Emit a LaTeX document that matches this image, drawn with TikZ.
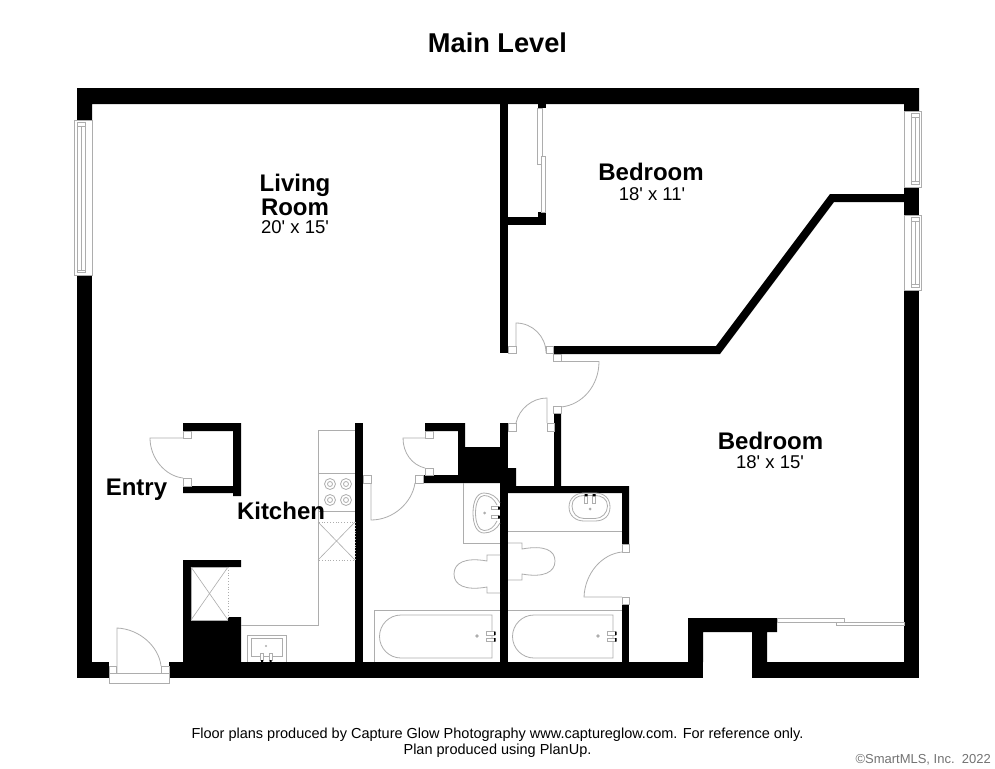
\documentclass[tikz,border=0pt]{standalone}
\usepackage{fontspec}
\setmainfont{Liberation Sans}
\definecolor{ln}{gray}{0.68}
\newcommand{\ft}{\textquotesingle}
\tikzset{
  wall/.style={fill=black,draw=none},
  fix/.style={draw=ln,line width=0.8pt,fill=none},
  jamb/.style={draw=ln,line width=0.8pt,fill=white},
  dot/.style={draw=ln,line width=0.8pt,dotted},
  room/.style={font=\bfseries\fontsize{24}{24}\selectfont,align=center,inner sep=0pt},
  dim/.style={font=\fontsize{18.5}{18.5}\selectfont,inner sep=0pt},
  foot/.style={font=\fontsize{14.5}{16}\selectfont,inner sep=0pt,align=center}
}
\begin{document}
\begin{tikzpicture}[x=1pt,y=-1pt]
\useasboundingbox (0,0) rectangle (995,768);
\fill[white] (0,0) rectangle (995,768);
% outer walls
\fill[wall] (77,275) -- (77,88) -- (919,88) -- (919,111) -- (904,111) -- (904,104) -- (92,104) -- (92,120) -- (77,120) -- cycle;
\fill[white] (77,120) rectangle (92,275);
\fill[wall] (77,275) rectangle (92,678);
\fill[wall] (77,662) rectangle (109,678);
\fill[wall] (169,662) rectangle (703,678);
\fill[wall] (752,662) rectangle (919,678);
\fill[wall] (904,290) rectangle (919,678);
\fill[wall] (904,187) rectangle (919,215);
\fill[wall] (688,662) -- (688,618) -- (777,618) -- (777,632) -- (767,632) -- (767,662) -- (752,662) -- (752,632) -- (703,632) -- (703,662) -- cycle;
% bedroom partition
\fill[wall] (553,346) -- (716,346) -- (830,194) -- (904,194) -- (904,202) -- (834,202) -- (720,354) -- (553,354) -- cycle;
\fill[wall] (500,104) rectangle (508,353);
\fill[wall] (508,217) rectangle (546,225);
\fill[wall] (538,212) rectangle (546,217);
\fill[wall] (538,104) rectangle (546,108);
% entry closet
\fill[wall] (183,423) -- (241,423) -- (241,496) -- (233,496) -- (233,493) -- (183,493) -- (183,486) -- (233,486) -- (233,431) -- (183,431) -- cycle;
% pantry
\fill[wall] (241,560) -- (183,560) -- (183,662) -- (241,662) -- (241,617) -- (228,617) -- (228,620) -- (191,620) -- (191,567) -- (241,567) -- cycle;
% kitchen / bath walls
\fill[wall] (355,423) rectangle (363,662);
\fill[wall] (500,423) rectangle (508,662);
\fill[wall] (425,423) -- (465,423) -- (465,447) -- (500,447) -- (500,483) -- (423,483) -- (423,475) -- (458,475) -- (458,431) -- (425,431) -- cycle;
\fill[wall] (508,468) -- (516,468) -- (516,486) -- (554,486) -- (554,413) -- (561,413) -- (561,486) -- (629,486) -- (629,544) -- (622,544) -- (622,493) -- (508,493) -- cycle;
\fill[wall] (622,604) rectangle (629,662);
% windows
\draw[fix,fill=white] (74,120) rectangle (92,275);
\draw[fix] (77,122) rectangle (85,272);
\draw[fix] (81,126) -- (81,270) (77,126) -- (85,126) (77,270) -- (85,270);
\draw[fix,fill=white] (904,111) rectangle (921,187);
\draw[fix] (911,113) rectangle (919,184);
\draw[fix] (915,117) -- (915,181) (911,117) -- (919,117) (911,181) -- (919,181);
\draw[fix,fill=white] (904,215) rectangle (921,290);
\draw[fix] (911,217) rectangle (919,287);
\draw[fix] (915,221) -- (915,284) (911,221) -- (919,221) (911,284) -- (919,284);
% closet slider
\draw[fix] (537.5,108) rectangle (542,164);
\draw[fix,fill=white] (541,156) rectangle (545.5,212);
% bedroom slider
\draw[fix] (777,618) rectangle (844,622);
\draw[fix,fill=white] (836,622) rectangle (904,625.5);
% doors upper
\draw[jamb] (508,346) rectangle (516,353);
\draw[jamb] (546,346) rectangle (553,353);
\draw[fix] (516,346) -- (516,323) arc[start angle=-90,end angle=0,radius=30] -- (546,346);
\draw[jamb] (553,354) rectangle (561,361.5);
\draw[jamb] (553,406) rectangle (561,413);
\draw[fix] (561,361.5) -- (599,361.5) .. controls (599,386) and (582,405) .. (561,407);
\draw[jamb] (508,423) rectangle (516,431);
\draw[jamb] (547,423) rectangle (554,431);
\draw[fix] (516,423) .. controls (519,409) and (532,398) .. (547,398) -- (547,423);
% entry closet door
\draw[jamb] (183,431) rectangle (191,438);
\draw[jamb] (183,478) rectangle (191,486);
\draw[fix] (183,438) -- (150,438) .. controls (150,458) and (165,476) .. (183,478);
% entry door
\draw[jamb] (109,673) rectangle (169,683);
\draw[jamb] (109,666) rectangle (116,673);
\draw[jamb] (161,666) rectangle (169,673);
\draw[fix] (117,673) -- (117,628) .. controls (140,629) and (159,647) .. (161,666);
% middle closet door
\draw[jamb] (425,431) rectangle (433,438);
\draw[jamb] (425,468) rectangle (433,475);
\draw[fix] (425,438) -- (403,438) .. controls (403,453) and (412,465) .. (425,468);
% bath door
\draw[jamb] (363,475) rectangle (371,483);
\draw[jamb] (415,475) rectangle (423,483);
\draw[fix] (371,483) -- (371,520) .. controls (393,520) and (412,503) .. (415,483);
% right bath door
\draw[jamb] (622,544) rectangle (629,552);
\draw[jamb] (622,597) rectangle (629,604);
\draw[fix] (622,597) -- (584,597) .. controls (585,573) and (602,554) .. (622,552);
% kitchen
\draw[fix] (355,430) -- (318,430) -- (318,625) -- (241,625);
\draw[fix] (318,473) -- (355,473) (318,511) -- (355,511);
\foreach \xx/\yy in {330/484,346/484,330/500,346/500}{
  \draw[fix] (\xx,\yy) circle[radius=5.5];
  \draw[fix] (\xx,\yy) circle[radius=2.5];
}
\draw[dot] (318,522) rectangle (355,560);
\draw[fix,line width=0.6pt] (318,522) -- (355,560) (355,522) -- (318,560);
\draw[dot] (318,484) -- (318,500);
% pantry X
\draw[fix] (228,567) -- (191,567) -- (191,620) -- (228,620);
\draw[dot] (228,567) -- (228,620);
\draw[fix,line width=0.6pt] (191,567) -- (228,620) (228,567) -- (191,620);
% kitchen sink
\draw[fix] (247,662) -- (247,635) -- (286,635) -- (286,662);
\draw[fix] (251,656) -- (251,638) -- (282,638) -- (282,656) -- cycle;
\fill[ln] (266,646) circle[radius=1.2];
\draw[jamb] (260.5,653) rectangle (263.5,660);
\draw[jamb] (269,653) rectangle (272,660);
\fill[black] (261,660) rectangle (263,662) (269.5,660) rectangle (271.5,662);
% left bath basin
\draw[fix] (463,483) -- (463,543) -- (500,543);
\draw[fix] (500,503) .. controls (497,497) and (491,493) .. (484,493) .. controls (477,493) and (473,501) .. (473,513) .. controls (473,525) and (477,533) .. (484,533) .. controls (491,533) and (497,529) .. (500,523);
\draw[fix] (497,505) .. controls (494,499) and (490,495.5) .. (484,495.5) .. controls (479,495.5) and (475.5,503) .. (475.5,513) .. controls (475.5,523) and (479,530.5) .. (484,530.5) .. controls (490,530.5) and (494,527) .. (497,521);
\fill[ln] (484.5,513) circle[radius=1.5];
\draw[jamb] (491,506.5) rectangle (498,509.5);
\draw[jamb] (491,515.5) rectangle (498,518.5);
\fill[black] (498,506.5) rectangle (500,509.5) (498,515.5) rectangle (500,518.5);
% right bath basin
\draw[fix] (508,531) -- (622,531);
\draw[fix] (569,507) .. controls (569,498) and (576,493) .. (584,493) -- (595,493) .. controls (604,493) and (610,498) .. (610,507) .. controls (610,516) and (604,521) .. (595,521) -- (584,521) .. controls (576,521) and (569,516) .. (569,507) -- cycle;
\draw[fix] (572,506) .. controls (572,499) and (577,495.5) .. (584,495.5) -- (595,495.5) .. controls (602,495.5) and (607.5,499) .. (607.5,506) .. controls (607.5,513) and (602,518.5) .. (595,518.5) -- (584,518.5) .. controls (577,518.5) and (572,513) .. (572,506) -- cycle;
\fill[ln] (590,509) circle[radius=1.5];
\draw[jamb] (584.5,496) rectangle (587.5,503);
\draw[jamb] (592.5,496) rectangle (595.5,503);
\fill[black] (584.5,494) rectangle (587.5,496) (592.5,494) rectangle (595.5,496);
% toilets
\draw[fix] (500,555) -- (487,555) -- (487,561) .. controls (465,557) and (454,563) .. (454,574) .. controls (454,585) and (465,591) .. (487,587) -- (487,593) -- (500,593);
\draw[fix] (508,543) -- (522,543) -- (522,549) .. controls (544,545) and (555,550) .. (555,561) .. controls (555,572) and (544,578) .. (522,574) -- (522,580) -- (508,580);
% baths
\draw[fix] (374,662) -- (374,610) -- (500,610);
\draw[fix] (401,615) -- (492,615) -- (492,658) -- (401,658) arc[start angle=90,end angle=270,radius=21.5];
\fill[ln] (477,636) circle[radius=1.8];
\draw[jamb] (486,631.5) rectangle (494,635);
\draw[jamb] (486,638) rectangle (494,641.5);
\fill[black] (494,631.5) rectangle (495.5,635) (494,638) rectangle (495.5,641.5);
\draw[fix] (508,610) -- (622,610);
\draw[fix] (534,615) -- (613,615) -- (613,658) -- (534,658) arc[start angle=90,end angle=270,radius=21.5];
\fill[ln] (598,636) circle[radius=1.8];
\draw[jamb] (607,631.5) rectangle (615,635);
\draw[jamb] (607,638) rectangle (615,641.5);
\fill[black] (615,631.5) rectangle (616.5,635) (615,638) rectangle (616.5,641.5);
% text
\node[font=\bfseries\fontsize{27.2}{27.2}\selectfont,inner sep=0pt] (title) at (497.5,43) {Main Level};
\node[room] (lr) at (295,194.5) {Living\\Room};
\node[dim] (lrd) at (295,227) {20\ft{} x 15\ft};
\node[room] (bd1) at (651,172) {Bedroom};
\node[dim] (bd1d) at (652,194) {18\ft{} x 11\ft};
\node[room] (bd2) at (770.5,441) {Bedroom};
\node[dim] (bd2d) at (770,462) {18\ft{} x 15\ft};
\node[room] (en) at (136.5,490) {Entry};
\node[room] (ki) at (281,510.5) {Kitchen};
\node[foot] (fp) at (497.5,742.5) {Floor plans produced by Capture Glow Photography www.captureglow.com. For reference only.\\Plan produced using PlanUp.};
\node[font=\fontsize{13}{14}\selectfont,text=black!55,inner sep=0pt,anchor=east] (cr) at (991,760) {©SmartMLS, Inc.\ \ 2022};
\end{tikzpicture}
\end{document}
